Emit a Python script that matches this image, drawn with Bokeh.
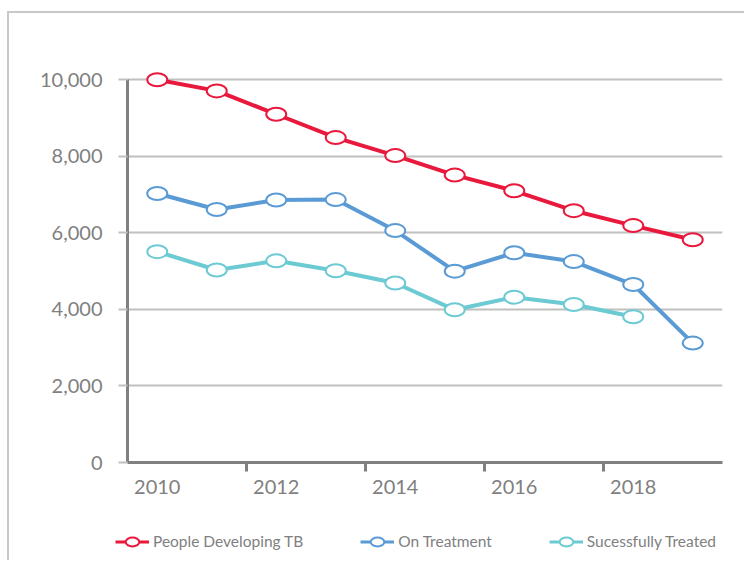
from bokeh.plotting import figure
from bokeh.layouts import column
from bokeh.models import ColumnDataSource, FixedTicker, Legend, LegendItem, Range1d
from bokeh.embed import file_html
from bokeh.resources import INLINE

# ---- data ----
years = [2010, 2011, 2012, 2013, 2014, 2015, 2016, 2017, 2018, 2019]
developing_tb = [10000, 9710, 9100, 8490, 8020, 7510, 7100, 6580, 6190, 5820]
on_treatment = [7030, 6610, 6860, 6870, 6060, 5000, 5480, 5250, 4650, 3120]
years_treated = [2010, 2011, 2012, 2013, 2014, 2015, 2016, 2017, 2018]
successfully_treated = [5510, 5030, 5270, 5010, 4690, 3990, 4320, 4130, 3810]

series_names = ["People Developing TB", "On Treatment", "Sucessfully Treated"]
series_colors = ["#E8193C", "#5B9BD5", "#6CCAD3"]

x_ticks = [2010, 2012, 2014, 2016, 2018]
x_tick_labels = ["2010", "2012", "2014", "2016", "2018"]
x_tick_marks = [2011.5, 2013.5, 2015.5, 2017.5]
y_ticks = [0, 2000, 4000, 6000, 8000, 10000]
y_tick_labels = ["0", "2,000", "4,000", "6,000", "8,000", "10,000"]

FONT = "Lato"
GRAY = "#808080"
LIGHT = "#c0c0c0"

p = figure(width=735, height=507, output_backend="svg", toolbar_location=None,
           x_range=Range1d(2009.5, 2019.5), y_range=Range1d(0, 10400),
           min_border_left=118, min_border_right=22, min_border_top=51,
           min_border_bottom=58)
p.outline_line_color = None
p.background_fill_color = "white"
p.border_fill_color = "white"

p.xgrid.grid_line_color = None
p.ygrid.grid_line_color = LIGHT
p.ygrid.grid_line_width = 2
p.ygrid.ticker = FixedTicker(ticks=y_ticks)

# x axis
xa = p.xaxis[0]
xa.ticker = FixedTicker(ticks=x_ticks, minor_ticks=x_tick_marks)
xa.major_label_overrides = {t: l for t, l in zip(x_ticks, x_tick_labels)}
xa.axis_line_color = GRAY
xa.axis_line_width = 3
xa.major_tick_out = 0
xa.major_tick_in = 0
xa.minor_tick_out = 9
xa.minor_tick_in = 0
xa.minor_tick_line_color = GRAY
xa.minor_tick_line_width = 3
xa.major_label_standoff = 8
xa.major_label_text_font = FONT
xa.major_label_text_font_size = "20px"
xa.major_label_text_color = GRAY

# y axis
ya = p.yaxis[0]
ya.ticker = FixedTicker(ticks=y_ticks)
ya.major_label_overrides = {t: l for t, l in zip(y_ticks, y_tick_labels)}
ya.bounds = (0, 10000)
ya.axis_line_color = GRAY
ya.axis_line_width = 3
ya.major_tick_out = 9
ya.major_tick_in = 0
ya.major_tick_line_color = LIGHT
ya.major_tick_line_width = 2
ya.minor_tick_line_color = None
ya.major_label_standoff = 16
ya.major_label_text_font = FONT
ya.major_label_text_font_size = "20px"
ya.major_label_text_color = GRAY

# legend strip (a second, axis-less figure holding only the legend)
q = figure(width=735, height=40, output_backend="svg", toolbar_location=None,
           x_range=Range1d(0, 1), y_range=Range1d(0, 1),
           min_border_left=0, min_border_right=0, min_border_top=0,
           min_border_bottom=0)
q.axis.visible = False
q.grid.visible = False
q.outline_line_color = None
legend_x = -12
for fig in (p, q):
    if "frame_align" in fig.properties():
        fig.frame_align = False
        legend_x = 106

items = []
for name, color, xs, ys in zip(series_names, series_colors,
                               [years, years, years_treated],
                               [developing_tb, on_treatment, successfully_treated]):
    src = ColumnDataSource(dict(x=xs, y=ys))
    p.line("x", "y", source=src, line_color=color, line_width=4)
    p.ellipse("x", "y", source=src, width=20, height=13,
              width_units="screen", height_units="screen",
              fill_color="white", line_color=color, line_width=2)
    # same series in the legend strip (its data lie outside the strip's ranges)
    lr = q.line("x", "y", source=src, line_color=color, line_width=3)
    er = q.ellipse("x", "y", source=src, width=20, height=13,
                   width_units="screen", height_units="screen",
                   fill_color="white", line_color=color, line_width=2)
    items.append(LegendItem(label=name, renderers=[lr, er]))

legend = Legend(items=items, orientation="horizontal", location=(legend_x, 10),
                glyph_width=34, glyph_height=17, label_standoff=4, spacing=57,
                label_text_font=FONT, label_text_font_size="15.5px",
                label_text_color=GRAY, border_line_color=None,
                background_fill_alpha=0, margin=0, padding=4)
q.add_layout(legend)

layout = column(p, q, spacing=0)
layout.styles = {"border-left": "2px solid #c8c8c8", "border-top": "2px solid #c8c8c8",
                 "margin-left": "7px", "margin-top": "11px"}

open("out.html", "w").write(file_html(layout, INLINE))
